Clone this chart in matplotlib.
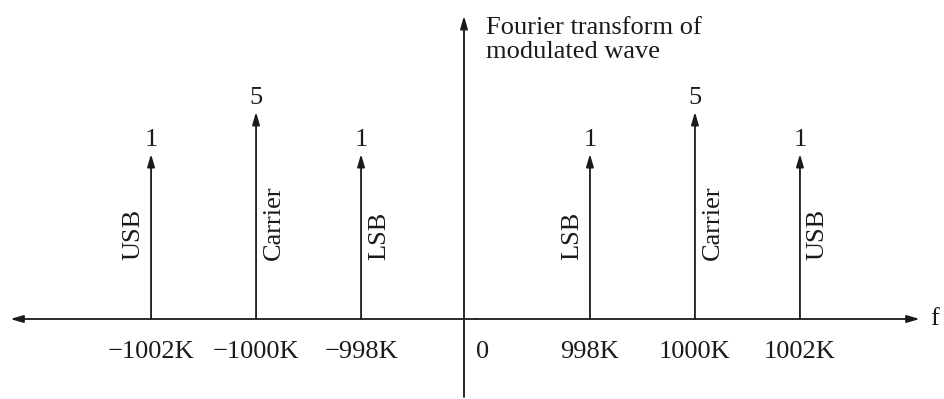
import numpy as np
import matplotlib
matplotlib.use('Agg')
import matplotlib.pyplot as plt

# spectrum of the AM wave: line frequencies (kHz), amplitudes and names
freqs = [-1002, -1000, -998, 998, 1000, 1002]
amps = [1, 5, 1, 1, 5, 1]
names = ['USB', 'Carrier', 'LSB', 'LSB', 'Carrier', 'USB']
tick_labels = ['\u22121002K', '\u22121000K', '\u2212998K', '998K', '1000K', '1002K']

plt.rcParams['font.family'] = ['Liberation Serif', 'DejaVu Serif']
FS = 19
INK = '#1a1a1a'

# schematic x position of a line: slot 1, 2, 3 on each side of the origin
def slot(f):
    return np.sign(f) * ((abs(f) - 996) / 2 + 0.09)

# compressed amplitude axis so the carrier doesn't dwarf the side bands
P = 0.141
def fwd(v):
    v = np.asarray(v, dtype=float)
    return np.sign(v) * np.abs(v) ** P
def inv(t):
    t = np.asarray(t, dtype=float)
    return np.sign(t) * np.abs(t) ** (1 / P)

fig = plt.figure(figsize=(9.44, 3.99), dpi=100)
ax = fig.add_axes([0, 0, 1, 1])
ax.set_yscale('function', functions=(fwd, inv))
# 105 px per slot, origin of the slots at x=475.5 px; 165 px per unit height
ax.set_xlim(-475.5 / 105, (944 - 475.5) / 105)
ax.set_ylim(-inv(80 / 165), inv(319 / 165))
ax.axis('off')

arrow = dict(arrowstyle='-|>,head_length=0.75,head_width=0.22', color=INK,
             lw=1.3, shrinkA=0, shrinkB=0)

# frequency axis with arrows at both ends
ax.annotate('', xy=(-4.43, 0), xytext=(0, 0), arrowprops=arrow)
ax.annotate('', xy=(4.23, 0), xytext=(0, 0), arrowprops=arrow)
ax.text(4.33, 0, 'f', fontsize=FS, va='center', ha='left', color=INK)

# vertical axis
x0 = (464 - 475.5) / 105
ax.annotate('', xy=(x0, 0.96), xytext=(x0, 0.005), xycoords=('data', 'axes fraction'),
            textcoords=('data', 'axes fraction'), arrowprops=arrow)
ax.annotate('Fourier transform of\nmodulated wave', xy=(0, 1), xycoords='axes fraction',
            xytext=(486, -58), textcoords='offset pixels', fontsize=FS,
            va='baseline', ha='left', linespacing=1.12, color=INK)
ax.annotate('0', xy=((483 - 475.5) / 105, 0), xytext=(0, -39),
            textcoords='offset pixels', fontsize=FS, ha='center', va='baseline', color=INK)

sides = [-1, 1, 1, -1, 1, 1]
for f, a, name, lab, s in zip(freqs, amps, names, tick_labels, sides):
    x = slot(f)
    ax.annotate('', xy=(x, a), xytext=(x, 0), arrowprops=arrow)
    ax.annotate(str(a), xy=(x, a), xytext=(0, 8), textcoords='offset pixels',
                fontsize=FS, ha='center', va='baseline', color=INK)
    ax.annotate(lab, xy=(x, 0), xytext=(0, -39), textcoords='offset pixels',
                fontsize=FS, ha='center', va='baseline', color=INK)
    ax.annotate(name, xy=(x, 0), xytext=(s * 18, 59), textcoords='offset pixels',
                fontsize=FS, rotation=90, ha='center', va='bottom', color=INK)

fig.savefig('out.png', dpi=100)
